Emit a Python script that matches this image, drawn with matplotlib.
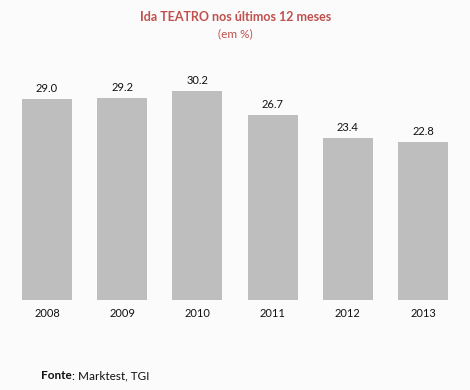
import matplotlib.pyplot as plt

# data
anos = ["2008", "2009", "2010", "2011", "2012", "2013"]
valores = [29.0, 29.2, 30.2, 26.7, 23.4, 22.8]

plt.rcParams['font.family'] = ['Lato', 'DejaVu Sans']

fig = plt.figure(figsize=(4.7, 3.9), dpi=100, facecolor="#fbfbfb")
ax = fig.add_axes([0.02, 0.2308, 0.96, 0.6205])
ax.set_facecolor("#fbfbfb")

pos = range(len(anos))
ax.bar(pos, valores, width=0.665, color="#bebebe")

# value labels above bars
for x, v in zip(pos, valores):
    ax.text(x, v + 0.8, f"{v:.1f}", ha="center", va="bottom", fontsize=8, color="#111111")

ax.set_xlim(-0.5, 5.5)
ax.set_ylim(0, 35)
ax.set_xticks(list(pos))
ax.set_xticklabels(anos, fontsize=8, color="#111111")
ax.tick_params(axis="x", length=0, pad=6)
ax.set_yticks([])
for s in ax.spines.values():
    s.set_visible(False)

# title
fig.text(0.502, 0.956, "Ida TEATRO nos últimos 12 meses", ha="center", va="center",
         fontsize=9, fontweight="bold", color="#c0504d")
fig.text(0.5, 0.913, "(em %)", ha="center", va="center", fontsize=8.5, color="#c0504d")

# source note
t1 = fig.text(0.087, 0.028, "Fonte", ha="left", va="baseline", fontsize=8.5,
              fontweight="bold", color="#111111")
ax.annotate(": Marktest, TGI", xy=(1, 0), xycoords=t1, ha="left", va="bottom",
            fontsize=8.5, color="#111111", annotation_clip=False)

fig.savefig("out.png", dpi=100, facecolor=fig.get_facecolor())
